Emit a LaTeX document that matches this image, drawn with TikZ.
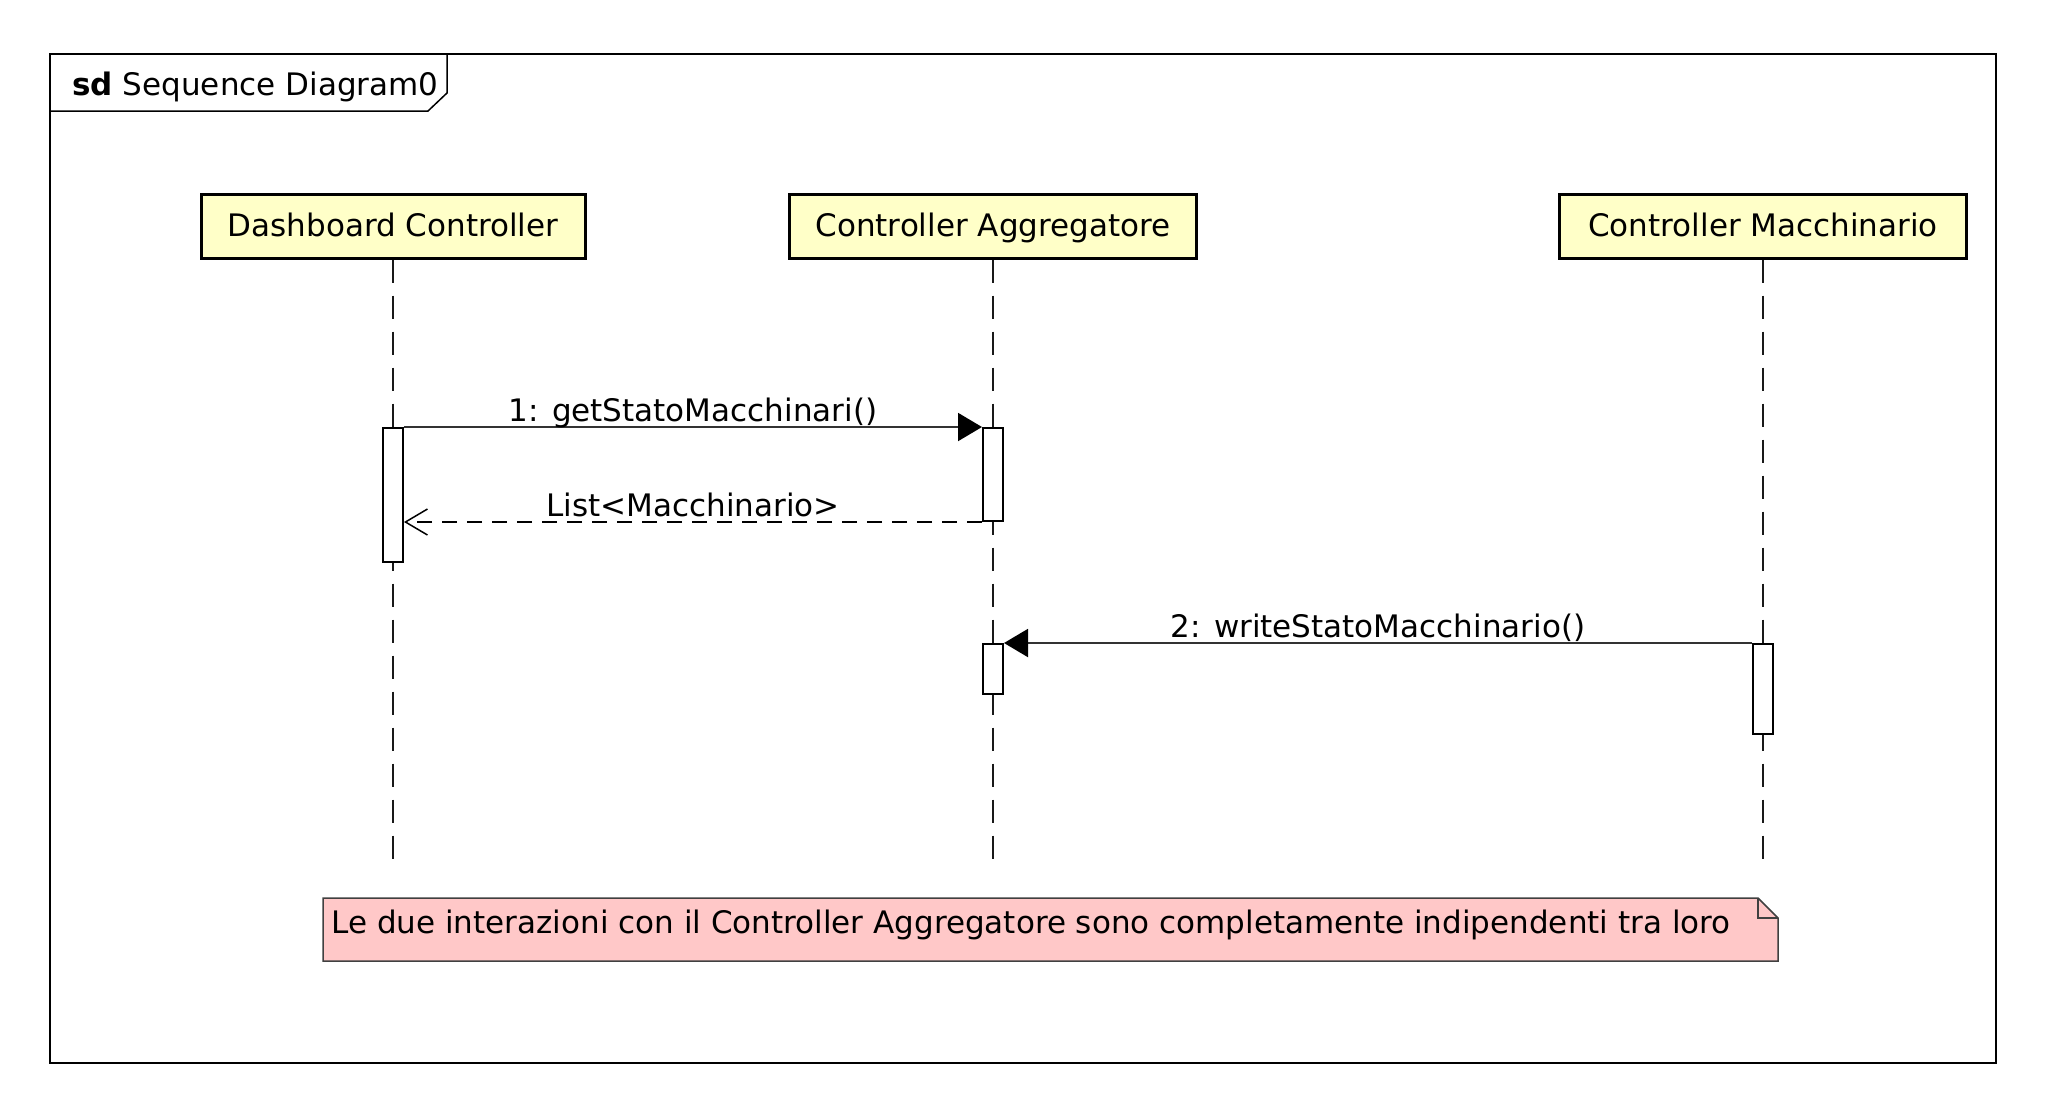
\documentclass[tikz,border=0pt]{standalone}
\usepackage{fontspec}
\setmainfont{DejaVu Sans}
\usetikzlibrary{arrows.meta}

\definecolor{headyellow}{RGB}{255,255,200}
\definecolor{notepink}{RGB}{255,200,200}
\newcommand{\umlfont}{\fontsize{15.5}{18}\selectfont}

\begin{document}
\begin{tikzpicture}[x=0.5pt,y=-0.5pt,font=\umlfont,
  head/.style={rectangle,draw,line width=1.5pt,fill=headyellow,minimum height=32pt,inner sep=0pt,
    text height=11.3pt,text depth=1pt},
  act node/.style={rectangle,draw,line width=1pt,fill=white,minimum width=10pt,inner sep=0pt},
  lifeline/.style={draw=black!90,line width=0.9pt,dash pattern=on 11.5pt off 6.5pt},
  call/.style={-{Triangle[length=12pt,width=14pt,color=black]},line width=1pt,draw=black!80},
  reply/.style={-{Straight Barb[length=11pt,width=13pt,line width=0.75pt]},line width=0.75pt,dash pattern=on 7.5pt off 5pt},
  msg label/.style={anchor=base,yshift=3pt,inner sep=0pt,text=black}]

  \useasboundingbox (0,0) rectangle (2058,1116);

  % frame
  \draw[line width=1pt] (50,54) rectangle (1996,1063);
  \draw[line width=0.75pt] (50,111) -- (428,111) -- (447,93) -- (447,54);
  \node[anchor=base west,inner sep=0pt] (title) at (72,95) {\textbf{sd} Sequence Diagram0};

  % lifelines
  \node[head,minimum width=192pt] (dc) at (393,226) {Dashboard Controller};
  \node[head,minimum width=203.5pt] (ca) at (993,226) {Controller Aggregatore};
  \node[head,minimum width=203.5pt] (cm) at (1763,226) {Controller Macchinario};

  \coordinate (dcend) at (393,860);
  \coordinate (caend) at (993,860);
  \coordinate (cmend) at (1763,860);

  \draw[lifeline] (dc) -- (dcend);
  \draw[lifeline] (ca) -- (caend);
  \draw[lifeline] (cm) -- (cmend);

  % activations
  \node[act node,minimum height=67pt] (dca) at (393,495) {};
  \node[act node,minimum height=46.5pt] (ca1) at (993,474.5) {};
  \node[act node,minimum height=25pt] (ca2) at (993,669) {};
  \node[act node,minimum height=45pt] (cma) at (1763,689) {};

  % messages
  \draw[call] (dca.north east) -- node[msg label] {1: getStatoMacchinari()} (ca1.north west);
  \draw[reply] (ca1.south west) -- node[msg label] {List<Macchinario>} (dca.east |- ca1.south west);
  \draw[call] (cma.north west) -- node[msg label] {2: writeStatoMacchinario()} (ca2.north east);

  % note
  \draw[draw=black!75,line width=0.75pt,fill=notepink]
    (323,898) -- (1758,898) -- (1778,918) -- (1778,961) -- (323,961) -- cycle;
  \draw[draw=black!75,line width=0.75pt] (1758,898) |- (1778,918);
  \node[anchor=base west,inner sep=0pt] (note) at (331,933)
    {Le due interazioni con il Controller Aggregatore sono completamente indipendenti tra loro};
\end{tikzpicture}
\end{document}
